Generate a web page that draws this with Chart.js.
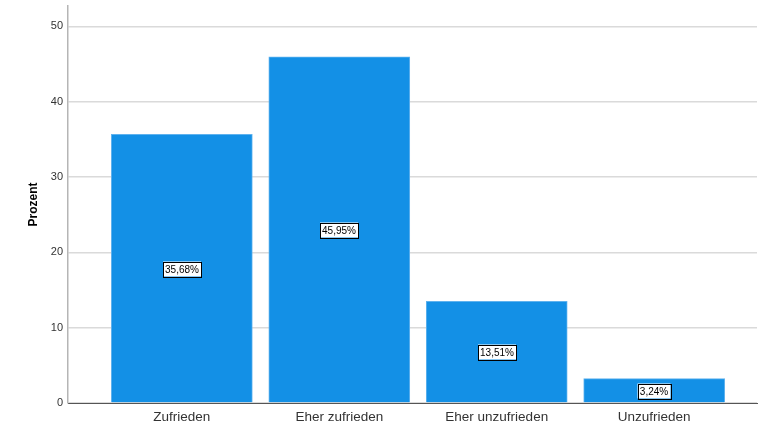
<!DOCTYPE html>
<html>
<head>
<meta charset="utf-8">
<script src="https://cdn.jsdelivr.net/npm/chart.js@4"></script>
<style>
  html, body { margin: 0; padding: 0; background: #fff; }
  #wrap { width: 761px; height: 427px; }
</style>
</head>
<body>
<div id="wrap"><canvas id="chart" width="761" height="427"></canvas></div>
<script>
// daten
const categories = ["Zufrieden", "Eher zufrieden", "Eher unzufrieden", "Unzufrieden"];
const percents = [35.68, 45.95, 13.51, 3.24];
const yTicks = [0, 10, 20, 30, 40, 50];

// etiketten in der mitte der balken
const boxLabels = {
    id: "boxLabels",
    afterDatasetsDraw(chart) {
        const ctx = chart.ctx;
        const xs = chart.scales.x;
        const ys = chart.scales.y;
        ctx.save();
        ctx.font = "10px 'Liberation Sans', Arial, sans-serif";
        ctx.textAlign = "center";
        ctx.textBaseline = "middle";
        percents.forEach((v, i) => {
            const txt = v.toFixed(2).replace(".", ",") + "%";
            const cx = Math.round(xs.getPixelForValue(i));
            const cy = Math.round(ys.getPixelForValue(v / 2));
            const w = Math.ceil(ctx.measureText(txt).width) + 4;
            const h = 15;
            ctx.fillStyle = "#fff";
            ctx.fillRect(cx - w / 2, cy - h / 2, w, h);
            ctx.strokeStyle = "#000";
            ctx.lineWidth = 1;
            ctx.strokeRect(Math.round(cx - w / 2) + 0.5, Math.round(cy - h / 2) + 0.5, w, h);
            ctx.fillStyle = "#000";
            ctx.fillText(txt, cx, cy + 1);
        });
        ctx.restore();
    }
};

new Chart(document.getElementById("chart"), {
    type: "bar",
    data: {
        datasets: [{
            data: percents.map((v, i) => ({ x: i, y: v })),
            backgroundColor: "#1390e6",
            borderColor: "#5fb2ee",
            borderWidth: 1,
            barThickness: 141
        }]
    },
    options: {
        responsive: false,
        animation: false,
        layout: { padding: { top: 6, right: 4, left: 0, bottom: 0 } },
        plugins: { legend: { display: false }, tooltip: { enabled: false } },
        scales: {
            x: {
                type: "linear",
                offset: false,
                min: -0.723,
                max: 3.653,
                afterBuildTicks: (s) => { s.ticks = categories.map((_, i) => ({ value: i })); },
                afterFit: (s) => { s.height = 24; s.paddingLeft = 0; s.paddingRight = 0; },
                grid: { display: false, drawTicks: false },
                border: { color: "#555", width: 1 },
                ticks: {
                    callback: (v) => categories[v],
                    color: "#333",
                    padding: 6,
                    maxRotation: 0,
                    autoSkip: false,
                    font: { family: "'Liberation Sans', Arial, sans-serif", size: 13.5 }
                }
            },
            y: {
                min: 0,
                max: 52.7,
                afterBuildTicks: (s) => { s.ticks = yTicks.map(v => ({ value: v })); },
                afterFit: (s) => { s.width = 68; s.paddingTop = 0; s.paddingBottom = 0; },
                grid: { color: "#dadada", lineWidth: 1.5, drawTicks: false },
                border: { color: "#b5b5b5", width: 1.5 },
                ticks: {
                    color: "#333",
                    padding: 5,
                    font: { family: "'Liberation Sans', Arial, sans-serif", size: 11 }
                },
                title: {
                    display: true,
                    text: "Prozent",
                    color: "#000",
                    padding: { top: 26, bottom: 0 },
                    font: { family: "'Liberation Sans', Arial, sans-serif", size: 12, weight: "bold" }
                }
            }
        }
    },
    plugins: [boxLabels]
});
</script>
</body>
</html>
